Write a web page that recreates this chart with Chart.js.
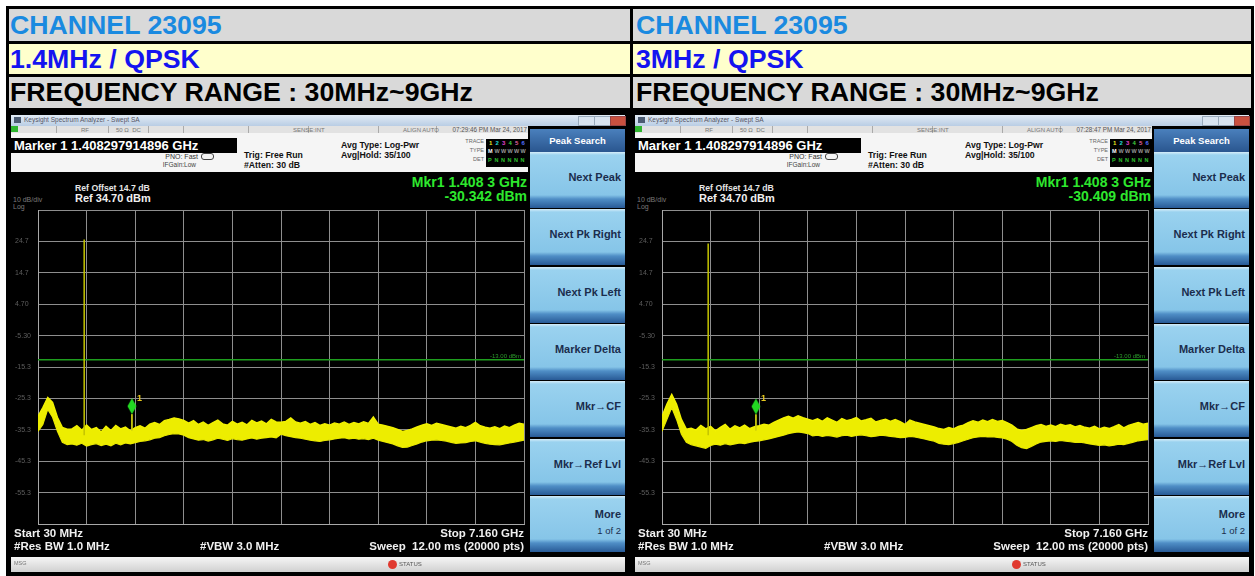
<!DOCTYPE html>
<html>
<head>
<meta charset="utf-8">
<script src="https://cdn.jsdelivr.net/npm/chart.js@4.4.1/dist/chart.umd.min.js"></script>
<style>
  body { margin: 0; width: 1255px; height: 576px; overflow: hidden; position: relative; background: #fff;
         font-family: "Liberation Sans", Arial, sans-serif; }
  #frame { position: absolute; left: 6px; top: 6px; width: 1248px; height: 570px; background: #000; }
  .hcell { position: absolute; display: flex; align-items: center; font-weight: bold; font-size: 26.7px;
           white-space: nowrap; box-sizing: border-box; }
  .c1 { background: #d9d9d9; color: #1a8ae0; }
  .c2 { background: #ffffcc; color: #1414f0; }
  .c3 { background: #d9d9d9; color: #000; }
  .panel { position: absolute; top: 111px; width: 622px; height: 465px; background: #000; overflow: hidden; }
  .panel div, .panel span { position: absolute; white-space: nowrap; }
  .t { line-height: 1; transform: translateY(-50%); }
  .tb { left: 3px; top: 4px; width: 614px; height: 11px; background: linear-gradient(#e2ebf5, #b9cde4); }
  .sr { left: 3px; top: 15px; width: 517px; height: 7px; background: #e2e2e2; }
  .info { left: 3px; top: 22px; width: 517px; height: 39px; background: #f5f5f5; }
  .mbar { left: 3px; top: 27px; width: 226px; height: 15px; background: #000; color: #fff;
          font: bold 13px/15px "Liberation Sans", Arial, sans-serif; padding-left: 3px; box-sizing: border-box; }
  .sk { left: 522px; width: 95px; height: 56px; box-sizing: border-box; padding-right: 4px;
        background: linear-gradient(#d6edf9 0px, #9ad2ef 3px, #86c5e8 43px, #4f8ec6 47px, #285a96 56px);
        color: #1b2d4d; font: bold 11px "Liberation Sans", Arial, sans-serif; text-align: right; }
  .sk span { position: static; }
  .skh { left: 522px; top: 18px; width: 95px; height: 23px; background: linear-gradient(#4a80bd, #2a568f);
         color: #fff; font: bold 9.5px/23px "Liberation Sans", Arial, sans-serif; text-align: center; }
  .bb { left: 3px; top: 446px; width: 614px; height: 15px; background: linear-gradient(#f6f6f6, #d0d0d0); }
  canvas { position: absolute; left: 3px; top: 89px; }
</style>
</head>
<body>
<div id="frame"></div>
<div class="hcell c1" style="left:9px;top:9px;width:621px;height:32px;padding-left:1px">CHANNEL 23095</div>
<div class="hcell c1" style="left:633px;top:9px;width:618px;height:32px;padding-left:3px">CHANNEL 23095</div>
<div class="hcell c2" style="left:9px;top:44px;width:621px;height:30px;padding-left:1px">1.4MHz / QPSK</div>
<div class="hcell c2" style="left:633px;top:44px;width:618px;height:30px;padding-left:3px">3MHz / QPSK</div>
<div class="hcell c3" style="left:9px;top:77px;width:621px;height:31px;padding-left:1px">FREQUENCY RANGE : 30MHz~9GHz</div>
<div class="hcell c3" style="left:633px;top:77px;width:618px;height:31px;padding-left:3px">FREQUENCY RANGE : 30MHz~9GHz</div>
<div id="panels"></div>

<script>
// sweep points (GHz), 30 MHz to 7.160 GHz
const freqGHz = [
  0.030, 0.101, 0.173, 0.244, 0.315, 0.387, 0.458, 0.529, 0.600, 0.672,
  0.743, 0.814, 0.886, 0.957, 1.028, 1.100, 1.171, 1.242, 1.313, 1.385,
  1.456, 1.527, 1.599, 1.670, 1.741, 1.813, 1.884, 1.955, 2.026, 2.098,
  2.169, 2.240, 2.312, 2.383, 2.454, 2.526, 2.597, 2.668, 2.739, 2.811,
  2.882, 2.953, 3.025, 3.096, 3.167, 3.239, 3.310, 3.381, 3.452, 3.524,
  3.595, 3.666, 3.738, 3.809, 3.880, 3.952, 4.023, 4.094, 4.165, 4.237,
  4.308, 4.379, 4.451, 4.522, 4.593, 4.665, 4.736, 4.807, 4.878, 4.950,
  5.021, 5.092, 5.164, 5.235, 5.306, 5.378, 5.449, 5.520, 5.591, 5.663,
  5.734, 5.805, 5.877, 5.948, 6.019, 6.091, 6.162, 6.233, 6.304, 6.376,
  6.447, 6.518, 6.590, 6.661, 6.732, 6.804, 6.875, 6.946, 7.017, 7.089,
  7.160
];

// 1.4MHz trace: upper / lower edge of the yellow noise band (dBm)
const leftUpper = [
  -31.0, -28.2, -25.0, -26.6, -31.3, -34.5, -35.1, -35.0, -34.0, -35.4,
  -33.8, -35.2, -34.6, -36.0, -34.2, -35.5, -33.9, -35.0, -34.4, -35.6,
  -34.6, -34.0, -34.8, -33.5, -33.0, -33.6, -32.4, -32.0, -31.5, -31.8,
  -32.3, -33.2, -32.4, -33.6, -32.8, -33.9, -33.0, -32.2, -33.4, -33.8,
  -32.6, -33.5, -32.9, -33.7, -32.3, -33.1, -32.5, -33.4, -32.0, -32.8,
  -32.9, -32.6, -31.5, -32.8, -33.2, -32.7, -33.6, -33.0, -33.9, -33.4,
  -33.8, -33.1, -33.5, -32.8, -33.6, -33.0, -33.4, -32.7, -33.3, -31.2,
  -33.5, -33.8, -34.2, -34.6, -35.2, -35.8, -35.5, -35.0, -34.4, -33.8,
  -33.4, -33.9, -33.2, -33.6, -34.0, -34.4, -34.8, -34.2, -34.6, -33.9,
  -32.9, -34.0, -34.5, -34.8, -34.3, -34.9, -34.1, -34.6, -33.8, -33.2,
  -33.5
];
const leftLower = [
  -35.8, -33.6, -28.8, -31.3, -35.8, -39.3, -40.0, -39.8, -40.2, -39.6,
  -40.5, -40.0, -39.7, -40.3, -39.9, -40.4, -39.6, -40.1, -39.5, -39.8,
  -39.4, -39.0, -38.8, -38.5, -38.0, -37.8, -37.2, -36.8, -36.5, -36.6,
  -37.0, -37.8, -38.2, -38.6, -38.4, -38.9, -38.5, -38.0, -38.3, -38.7,
  -38.1, -38.4, -38.6, -38.2, -37.9, -38.3, -38.0, -37.8, -37.6, -37.9,
  -36.7, -37.2, -37.5, -37.8, -38.0, -38.3, -38.6, -38.8, -39.0, -38.7,
  -38.5, -38.2, -38.0, -37.8, -38.2, -38.0, -38.3, -38.1, -38.4, -38.0,
  -38.6, -39.0, -39.4, -39.8, -40.4, -40.9, -40.8, -40.3, -39.8, -39.2,
  -38.8, -38.6, -38.5, -38.7, -38.9, -39.3, -39.6, -39.5, -39.4, -39.0,
  -38.8, -39.2, -39.6, -39.9, -40.0, -40.1, -39.8, -39.5, -39.2, -38.9,
  -38.6
];

// 3MHz trace
const rightUpper = [
  -31.0, -27.2, -24.0, -27.2, -32.0, -35.1, -34.8, -35.4, -33.9, -35.0,
  -34.2, -35.6, -34.5, -33.6, -35.1, -34.0, -34.7, -33.8, -34.9, -34.3,
  -34.0, -33.5, -33.8, -32.9, -32.2, -31.5, -31.0, -31.6, -30.8, -31.4,
  -31.9, -32.4, -31.8, -32.6, -31.5, -32.2, -32.9, -31.7, -32.4, -32.0,
  -31.4, -32.5, -32.1, -31.6, -32.8, -32.3, -31.9, -32.6, -32.0, -32.7,
  -33.6, -32.2, -32.8, -33.2, -33.6, -34.0, -34.4, -34.9, -35.2, -34.6,
  -35.0, -34.2, -33.8, -33.0, -32.4, -32.9, -32.2, -32.7, -32.0, -32.6,
  -32.3, -33.0, -33.8, -35.0, -35.6, -35.2, -34.6, -34.0, -33.6, -34.2,
  -33.8, -34.3, -33.5, -34.0, -33.7, -34.4, -33.9, -34.5, -34.8, -34.2,
  -35.0, -34.5, -34.9, -34.3, -33.6, -34.7, -33.9, -33.4, -33.0, -33.5,
  -33.2
];
const rightLower = [
  -35.8, -32.0, -28.2, -32.0, -36.7, -39.3, -40.0, -40.4, -40.8, -41.2,
  -40.3, -39.9, -40.2, -39.7, -40.1, -39.8, -39.5, -39.7, -39.3, -39.0,
  -38.8, -38.5, -38.2, -37.8, -37.4, -37.0, -36.5, -36.2, -36.0, -36.2,
  -36.5, -37.2, -37.0, -37.4, -37.1, -37.3, -37.6, -37.2, -37.0, -37.4,
  -37.1, -36.9, -37.2, -37.5, -37.3, -37.0, -37.2, -37.4, -37.6, -37.8,
  -37.7, -37.4, -37.6, -37.9, -38.2, -38.6, -38.9, -39.6, -39.9, -40.0,
  -39.7, -39.3, -38.8, -38.3, -37.8, -37.6, -37.4, -37.6, -37.5, -37.7,
  -37.9, -38.3, -39.0, -40.2, -41.0, -41.3, -40.6, -39.8, -39.2, -39.0,
  -38.8, -39.0, -38.7, -38.9, -39.1, -39.3, -39.2, -39.5, -39.8, -40.0,
  -40.3, -40.1, -40.4, -40.2, -39.9, -40.0, -39.6, -39.2, -38.8, -38.6,
  -38.4
];

// carrier (ch 23095 = 707.5 MHz) and marker
const carrierGHz = 0.7075;
const carrierTop = [25.3, 24.0];
const markerGHz = 1.408;
const markerDbm = [-30.342, -30.409];
const limitDbm = -13;

// axes: ref 34.70 dBm, 10 dB/div; 713 MHz/div
const yTicks = [-65.3, -55.3, -45.3, -35.3, -25.3, -15.3, -5.3, 4.7, 14.7, 24.7, 34.7];
const yTickLabels = ['', '-55.3', '-45.3', '-35.3', '-25.3', '-15.3', '-5.30', '4.70', '14.7', '24.7', ''];
const xTicks = [0.03, 0.743, 1.456, 2.169, 2.882, 3.595, 4.308, 5.021, 5.734, 6.447, 7.16];

const panelInfo = [
  { left: 8, stamp: '07:29:46 PM Mar 24, 2017' },
  { left: 632, stamp: '07:28:47 PM Mar 24, 2017' }
];
const softkeys = ['Next Peak', 'Next Pk Right', 'Next Pk Left', 'Marker Delta', 'Mkr\u2192CF', 'Mkr\u2192Ref Lvl'];

// text helper: x = left (or right edge if r), y = vertical centre
function txt(s, x, y, style, r) {
  const pos = r ? 'right:' + (622 - x) + 'px' : 'left:' + x + 'px';
  return `<div class="t" style="${pos};top:${y}px;${style}">${s}</div>`;
}

function panelHtml(p, k) {
  const B = 'font-weight:bold;';
  let h = `<div class="panel" style="left:${p.left}px">`;
  // window title bar
  h += '<div class="tb"></div>';
  h += '<div style="left:6px;top:6px;width:7px;height:6px;background:#4b5b72"></div>';
  h += txt('Keysight Spectrum Analyzer - Swept SA', 16, 9, 'font-size:6.5px;color:#556');
  h += '<div style="left:570px;top:5px;width:15px;height:8px;background:#d8e3ef;border:1px solid #9ab"></div>';
  h += '<div style="left:586px;top:5px;width:15px;height:8px;background:#d8e3ef;border:1px solid #9ab"></div>';
  h += '<div style="left:602px;top:5px;width:14px;height:8px;background:#c9503f;border:1px solid #944"></div>';
  // status row
  h += '<div class="sr"></div>';
  h += '<div style="left:3px;top:15px;width:7px;height:6px;background:#2fb52f"></div>';
  [48, 100, 140, 175, 240, 300, 370, 428].forEach(x => {
    h += `<div style="left:${x}px;top:15px;width:1px;height:7px;background:#aaa"></div>`;
  });
  h += txt('RF', 73, 19, 'font-size:6px;color:#777');
  h += txt('50 \u03a9 &nbsp;DC', 108, 19, 'font-size:6px;color:#777');
  h += txt('SENSE:INT', 285, 19, 'font-size:6px;color:#777');
  h += txt('ALIGN AUTO', 395, 19, 'font-size:6px;color:#777');
  h += txt(p.stamp, 519, 19, 'font-size:6.3px;color:#555', true);
  // info area
  h += '<div class="info"></div>';
  h += '<div class="mbar">Marker 1 1.408297914896 GHz</div>';
  h += txt('PNO: Fast', 190, 45, 'font-size:7px;color:#333', true);
  h += txt('IFGain:Low', 188, 54, 'font-size:6.5px;color:#444', true);
  h += '<div style="left:193px;top:42px;width:11px;height:5px;border:1px solid #444;border-radius:3px"></div>';
  h += txt('Trig: Free Run', 236, 44, B + 'font-size:8.7px;color:#111');
  h += txt('#Atten: 30 dB', 236, 54, B + 'font-size:8.7px;color:#111');
  h += txt('Avg Type: Log-Pwr', 333, 34, B + 'font-size:8.7px;color:#111');
  h += txt('Avg|Hold: 35/100', 333, 44, B + 'font-size:8.7px;color:#111');
  h += txt('TRACE', 476, 31, 'font-size:5.5px;color:#666', true);
  h += txt('TYPE', 476, 40, 'font-size:5.5px;color:#666', true);
  h += txt('DET', 476, 49, 'font-size:5.5px;color:#666', true);
  h += '<div style="left:478px;top:28px;width:42px;height:28px;background:#000"></div>';
  const tc = ['#e8e820', '#20d8d8', '#e040d0', '#40d040', '#e060a0', '#5070ff'];
  tc.forEach((c, i) => {
    h += txt(String(i + 1), 481 + i * 6.5, 32, B + 'font-size:6px;color:' + c);
    h += txt(i ? 'W' : 'M', 480 + i * 6.5, 41, B + 'font-size:5.5px;color:' + (i ? '#9a9a9a' : '#fff'));
    h += txt(i ? 'N' : 'P', 480 + i * 6.5, 50, B + 'font-size:5.5px;color:#2ec02e');
  });
  // screen annotations
  h += txt('Ref Offset 14.7 dB', 67, 77, B + 'font-size:8.7px;color:#e6e6e6');
  h += txt('Ref 34.70 dBm', 67, 87, B + 'font-size:11px;color:#f0f0f0');
  h += txt('10 dB/div', 5, 88, 'font-size:7px;color:#7a7a7a');
  h += txt('Log', 5, 95, 'font-size:7px;color:#7a7a7a');
  h += txt('Mkr1 1.408 3 GHz', 519, 71, B + 'font-size:14px;color:#2ee82e', true);
  h += txt(markerDbm[k].toFixed(3) + ' dBm', 519, 85, B + 'font-size:14px;color:#2ee82e', true);
  h += `<canvas id="plot${k}" width="519" height="330"></canvas>`;
  h += txt('Start 30 MHz', 6, 423, B + 'font-size:11.5px;color:#f0f0f0');
  h += txt('#Res BW 1.0 MHz', 6, 436, B + 'font-size:11.5px;color:#f0f0f0');
  h += txt('#VBW 3.0 MHz', 192, 436, B + 'font-size:11.5px;color:#f0f0f0');
  h += txt('Stop 7.160 GHz', 516, 423, B + 'font-size:11.5px;color:#f0f0f0', true);
  h += txt('Sweep &nbsp;12.00 ms (20000 pts)', 516, 436, B + 'font-size:11.5px;color:#f0f0f0', true);
  // softkeys
  h += '<div class="skh">Peak Search</div>';
  softkeys.forEach((s, i) => {
    h += `<div class="sk" style="top:${41 + i * 57.3}px;line-height:50px">${s}</div>`;
  });
  h += `<div class="sk" style="top:${41 + 6 * 57.3}px;padding-top:10px;line-height:16px">More<br><span style="font-weight:normal;font-size:9.5px">1 of 2</span></div>`;
  // bottom bar
  h += '<div class="bb"></div>';
  h += txt('MSG', 6, 453, 'font-size:5.5px;color:#777');
  h += '<div style="left:380px;top:449px;width:9px;height:9px;border-radius:50%;background:#e03a30"></div>';
  h += txt('STATUS', 391, 453, 'font-size:6px;color:#555');
  h += '</div>';
  return h;
}

document.getElementById('panels').innerHTML = panelInfo.map(panelHtml).join('');

// marker diamond drawn above the marker point
const diamond = document.createElement('canvas');
diamond.width = 10; diamond.height = 34;
(function () {
  const c = diamond.getContext('2d');
  c.fillStyle = '#22d822';
  c.beginPath();
  c.moveTo(5, 1); c.lineTo(9.5, 9); c.lineTo(5, 17); c.lineTo(0.5, 9); c.closePath();
  c.fill();
})();

const annotate = {
  id: 'annotate',
  afterDatasetsDraw(chart, args, opts) {
    const { ctx, scales: { x, y }, chartArea } = chart;
    const mx = x.getPixelForValue(markerGHz);
    const my = y.getPixelForValue(opts.marker);
    ctx.save();
    ctx.font = 'bold 9px "Liberation Sans", Arial';
    ctx.fillStyle = '#e6c81e';
    ctx.fillText('1', mx + 5, my - 13);
    ctx.font = '6px "Liberation Sans", Arial';
    ctx.fillStyle = '#2c9a2c';
    ctx.textAlign = 'right';
    ctx.fillText('-13.00 dBm', chartArea.right - 3, y.getPixelForValue(limitDbm) - 2);
    ctx.restore();
  }
};

function buildChart(k, upper, lower) {
  const line = (pts, color, w) => ({
    data: pts, borderColor: color, borderWidth: w, pointRadius: 0, tension: 0, fill: false
  });
  const trace = arr => freqGHz.map((f, i) => ({ x: f, y: arr[i] }));
  const top = line(trace(upper), '#f2f200', 1.4);
  top.fill = '+1';
  top.backgroundColor = '#eded00';
  new Chart(document.getElementById('plot' + k), {
    type: 'line',
    data: {
      datasets: [
        { data: [{ x: markerGHz, y: markerDbm[k] }], pointStyle: diamond, pointRadius: 5, showLine: false },
        line([{ x: markerGHz, y: markerDbm[k] }, { x: markerGHz, y: -35.5 }], '#cfcf10', 1),
        line([{ x: carrierGHz, y: carrierTop[k] }, { x: carrierGHz, y: -37 }], '#c4c400', 1.5),
        top,
        line(trace(lower), '#e6e600', 1.2),
        line([{ x: 0.03, y: limitDbm }, { x: 7.16, y: limitDbm }], '#1e9e1e', 1.5)
      ]
    },
    options: {
      responsive: false, animation: false, devicePixelRatio: 1, events: [],
      layout: { padding: { left: 4, right: 2, top: 10, bottom: 5 } },
      plugins: { legend: { display: false }, tooltip: { enabled: false }, annotate: { marker: markerDbm[k] } },
      scales: {
        x: {
          type: 'linear', min: 0.03, max: 7.16,
          afterBuildTicks: s => { s.ticks = xTicks.map(v => ({ value: v })); },
          afterFit: s => { s.height = 0; },
          ticks: { display: false },
          grid: { color: '#8e8e8e', lineWidth: 1, drawTicks: false },
          border: { color: '#a8a8a8' }
        },
        y: {
          min: -65.3, max: 34.7,
          afterBuildTicks: s => { s.ticks = yTicks.map(v => ({ value: v })); },
          afterFit: s => { s.width = 23; },
          ticks: {
            callback: (v, i) => yTickLabels[i], crossAlign: 'far', padding: 0,
            color: '#5e5e5e', font: { size: 7, family: '"Liberation Sans", Arial' }
          },
          grid: { color: '#8e8e8e', lineWidth: 1, drawTicks: false },
          border: { color: '#a8a8a8' }
        }
      }
    },
    plugins: [annotate]
  });
}

buildChart(0, leftUpper, leftLower);
buildChart(1, rightUpper, rightLower);
</script>
</body>
</html>
